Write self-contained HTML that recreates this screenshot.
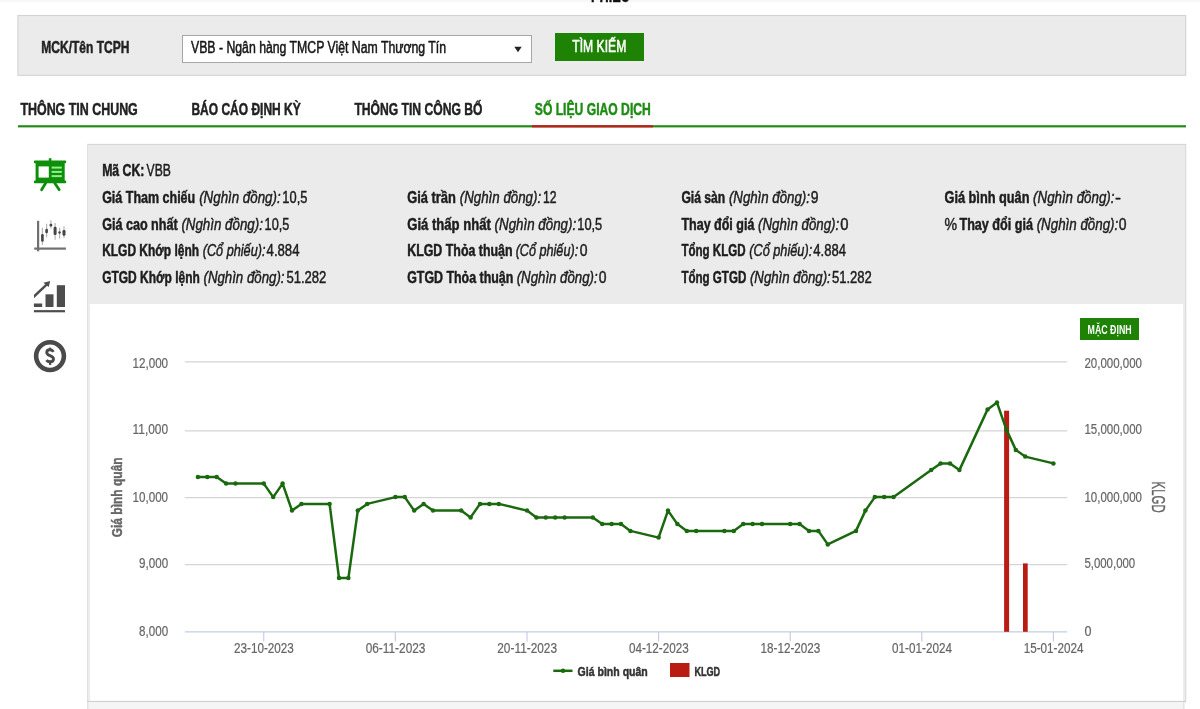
<!DOCTYPE html>
<html lang="vi"><head><meta charset="utf-8"><title>Số liệu giao dịch</title>
<style>
html,body{margin:0;padding:0;background:#fff;}
body{width:1200px;height:709px;overflow:hidden;font-family:'Liberation Sans',sans-serif;}
svg{display:block;font-family:'Liberation Sans',sans-serif;will-change:transform;}
</style></head><body>
<svg width="1200" height="709" viewBox="0 0 1200 709">
<defs><linearGradient id="tg" x1="0" y1="0" x2="0" y2="1"><stop offset="0" stop-color="#f5f5f5"/><stop offset="1" stop-color="#ffffff"/></linearGradient></defs>
<rect x="0" y="0" width="1200" height="709" fill="#ffffff"/>
<rect x="0" y="0" width="1200" height="3.5" fill="url(#tg)"/>
<text x="591.00" y="2.20" font-size="20" font-weight="bold" font-style="normal" fill="#111" text-anchor="start" textLength="39.00" lengthAdjust="spacingAndGlyphs" stroke="#111" stroke-width="0.5" stroke-linejoin="round">PHIẾU</text>
<rect x="17.9" y="15.5" width="1167.8" height="59.8" fill="#ebebeb" stroke="#d3d3d3" stroke-width="1.1"/>
<text x="41.30" y="52.50" font-size="16.3" font-weight="bold" font-style="normal" fill="#222" text-anchor="start" textLength="88.00" lengthAdjust="spacingAndGlyphs" stroke="#222" stroke-width="0.5" stroke-linejoin="round">MCK/Tên TCPH</text>
<rect x="182.5" y="35.5" width="349" height="27" fill="#ffffff" stroke="#a6a6a6" stroke-width="1"/>
<text x="191.00" y="53.00" font-size="16" font-weight="normal" font-style="normal" fill="#161616" text-anchor="start" textLength="255.00" lengthAdjust="spacingAndGlyphs" stroke="#161616" stroke-width="0.52" stroke-linejoin="round">VBB - Ngân hàng TMCP Việt Nam Thương Tín</text>
<path d="M514.3 46.8 L521.7 46.8 L518 52.2 Z" fill="#222"/>
<rect x="555" y="33" width="89" height="28" fill="#1e8205"/>
<text x="572.30" y="52.30" font-size="16.8" font-weight="normal" font-style="normal" fill="#ffffff" text-anchor="start" textLength="54.00" lengthAdjust="spacingAndGlyphs" stroke="#ffffff" stroke-width="0.6" stroke-linejoin="round">TÌM KIẾM</text>
<text x="20.40" y="115.00" font-size="17.2" font-weight="bold" font-style="normal" fill="#222" text-anchor="start" textLength="117.40" lengthAdjust="spacingAndGlyphs" stroke="#222" stroke-width="0.5" stroke-linejoin="round">THÔNG TIN CHUNG</text>
<text x="191.40" y="115.00" font-size="17.2" font-weight="bold" font-style="normal" fill="#222" text-anchor="start" textLength="109.40" lengthAdjust="spacingAndGlyphs" stroke="#222" stroke-width="0.5" stroke-linejoin="round">BÁO CÁO ĐỊNH KỲ</text>
<text x="354.40" y="115.00" font-size="17.2" font-weight="bold" font-style="normal" fill="#222" text-anchor="start" textLength="128.10" lengthAdjust="spacingAndGlyphs" stroke="#222" stroke-width="0.5" stroke-linejoin="round">THÔNG TIN CÔNG BỐ</text>
<text x="534.80" y="115.00" font-size="17.2" font-weight="bold" font-style="normal" fill="#1e8c14" text-anchor="start" textLength="116.00" lengthAdjust="spacingAndGlyphs" stroke="#1e8c14" stroke-width="0.5" stroke-linejoin="round">SỐ LIỆU GIAO DỊCH</text>
<rect x="18" y="125.2" width="1168" height="2.2" fill="#238c19"/>
<rect x="532" y="125.2" width="121" height="2.2" fill="#c81919"/>
<g fill="#0e8f0b">
<rect x="48.8" y="158.2" width="2.6" height="3"/>
<rect x="33.9" y="160.4" width="32.3" height="2.9" rx="1"/>
<rect x="35.6" y="162" width="29.1" height="19.5"/>
<rect x="33.9" y="180.4" width="32.3" height="2.9" rx="1"/>
</g>
<rect x="38.6" y="166.4" width="10.2" height="11.2" fill="#ffffff"/>
<g fill="#8ff08a"><rect x="51.6" y="166.6" width="10.2" height="2"/><rect x="51.6" y="170.9" width="10.2" height="2"/><rect x="51.6" y="175.1" width="10.2" height="2"/></g>
<g stroke="#0e8f0b" stroke-width="2.8" stroke-linecap="round"><line x1="45.7" y1="183" x2="41.6" y2="189.7"/><line x1="54.7" y1="183" x2="59.2" y2="189.7"/></g>
<g fill="#707070"><rect x="37" y="220.8" width="2.2" height="30.5"/><rect x="34.2" y="247.5" width="31.7" height="2.2"/></g>
<g stroke="#b5b5b5" stroke-width="1.2">
<line x1="42.4" y1="227.8" x2="42.4" y2="244.9"/><line x1="46.6" y1="223.7" x2="46.6" y2="237.3"/><line x1="50.9" y1="220.2" x2="50.9" y2="228.4"/>
<line x1="55.1" y1="223" x2="55.1" y2="239.8"/><line x1="59.6" y1="227.8" x2="59.6" y2="238.6"/><line x1="64" y1="226.2" x2="64" y2="237.9"/></g>
<g fill="#454545">
<rect x="41.1" y="234.1" width="2.6" height="7.6" rx="1.2"/><rect x="45.3" y="228.7" width="2.6" height="4.5" rx="1.2"/><rect x="49.5" y="223.7" width="2.8" height="2.8" rx="1.3"/>
<rect x="53.6" y="226.8" width="3" height="8.3" rx="1.3"/><rect x="58.3" y="231.3" width="2.5" height="2.5" rx="1.2"/><rect x="62.5" y="230" width="3" height="5.7" rx="1.3"/></g>
<g fill="#4d4d4d">
<rect x="33.9" y="310.1" width="31.1" height="2.2"/>
<rect x="33.9" y="303.5" width="8.3" height="3.5"/><rect x="45.5" y="294.3" width="8" height="12.7"/><rect x="56.8" y="285.2" width="8.2" height="21.8"/>
<path d="M50.2 281.1 L43.4 282.7 L48.7 286.9 Z"/></g>
<clipPath id="ac"><rect x="33.9" y="278" width="30" height="24"/></clipPath><line x1="31" y1="299.34" x2="46.6" y2="284.6" stroke="#4d4d4d" stroke-width="2.4" clip-path="url(#ac)"/>
<circle cx="50" cy="356.1" r="13.9" fill="none" stroke="#4a4a4a" stroke-width="4.6"/>
<path d="M53.4 351.9 C52.6 350.4 51.3 349.8 49.9 349.8 C48 349.8 46.8 350.9 46.8 352.5 C46.8 354.2 48.2 355 50 355.7 C52 356.5 53.5 357.3 53.5 359 C53.5 360.7 52.1 361.8 50.1 361.8 C48.6 361.8 47.3 361.3 46.4 360.1" fill="none" stroke="#4a4a4a" stroke-width="2.9"/>
<rect x="48.95" y="347.6" width="2.3" height="2.8" fill="#4a4a4a"/><rect x="48.95" y="361.6" width="2.3" height="3.3" fill="#4a4a4a"/>
<rect x="87.8" y="144.4" width="1097.9" height="557" fill="#ffffff" stroke="#d6d6d6" stroke-width="1.1"/>
<rect x="88" y="145" width="1097" height="159.2" fill="#ebebeb"/>
<rect x="88" y="304.2" width="1097" height="397" fill="#ffffff"/>
<rect x="88" y="304.2" width="2" height="397" fill="#ececec"/><rect x="1183" y="304.2" width="2" height="397" fill="#ececec"/>
<rect x="87" y="700.9" width="1099" height="1.3" fill="#cfcfcf"/>
<rect x="88" y="702" width="1096" height="8" fill="#f5f5f5"/>
<rect x="1183" y="702" width="1.5" height="8" fill="#e4e4e4"/><rect x="87" y="702" width="1.5" height="8" fill="#e4e4e4"/>
<text x="102.14" y="175.80" font-size="16" font-weight="bold" font-style="normal" fill="#1d1d1d" text-anchor="start" textLength="42.32" lengthAdjust="spacingAndGlyphs" stroke="#1d1d1d" stroke-width="0.5" stroke-linejoin="round">Mã CK:</text>
<text x="146.56" y="175.80" font-size="16" font-weight="normal" font-style="normal" fill="#1d1d1d" text-anchor="start" textLength="24.24" lengthAdjust="spacingAndGlyphs" stroke="#1d1d1d" stroke-width="0.46" stroke-linejoin="round">VBB</text>
<text x="102.14" y="202.70" font-size="16" font-weight="bold" font-style="normal" fill="#1d1d1d" text-anchor="start" textLength="93.08" lengthAdjust="spacingAndGlyphs" stroke="#1d1d1d" stroke-width="0.5" stroke-linejoin="round">Giá Tham chiếu</text>
<text x="199.15" y="202.70" font-size="16" font-weight="normal" font-style="italic" fill="#1d1d1d" text-anchor="start" textLength="81.55" lengthAdjust="spacingAndGlyphs" stroke="#1d1d1d" stroke-width="0.46" stroke-linejoin="round">(Nghìn đồng):</text>
<text x="282.35" y="202.70" font-size="16" font-weight="normal" font-style="normal" fill="#1d1d1d" text-anchor="start" textLength="25.00" lengthAdjust="spacingAndGlyphs" stroke="#1d1d1d" stroke-width="0.46" stroke-linejoin="round">10,5</text>
<text x="102.14" y="229.50" font-size="16" font-weight="bold" font-style="normal" fill="#1d1d1d" text-anchor="start" textLength="75.57" lengthAdjust="spacingAndGlyphs" stroke="#1d1d1d" stroke-width="0.5" stroke-linejoin="round">Giá cao nhất</text>
<text x="181.38" y="229.50" font-size="16" font-weight="normal" font-style="italic" fill="#1d1d1d" text-anchor="start" textLength="81.55" lengthAdjust="spacingAndGlyphs" stroke="#1d1d1d" stroke-width="0.46" stroke-linejoin="round">(Nghìn đồng):</text>
<text x="264.58" y="229.50" font-size="16" font-weight="normal" font-style="normal" fill="#1d1d1d" text-anchor="start" textLength="24.75" lengthAdjust="spacingAndGlyphs" stroke="#1d1d1d" stroke-width="0.46" stroke-linejoin="round">10,5</text>
<text x="102.14" y="256.40" font-size="16" font-weight="bold" font-style="normal" fill="#1d1d1d" text-anchor="start" textLength="96.89" lengthAdjust="spacingAndGlyphs" stroke="#1d1d1d" stroke-width="0.5" stroke-linejoin="round">KLGD Khớp lệnh</text>
<text x="202.70" y="256.40" font-size="16" font-weight="normal" font-style="italic" fill="#1d1d1d" text-anchor="start" textLength="62.77" lengthAdjust="spacingAndGlyphs" stroke="#1d1d1d" stroke-width="0.46" stroke-linejoin="round">(Cổ phiếu):</text>
<text x="266.61" y="256.40" font-size="16" font-weight="normal" font-style="normal" fill="#1d1d1d" text-anchor="start" textLength="32.87" lengthAdjust="spacingAndGlyphs" stroke="#1d1d1d" stroke-width="0.46" stroke-linejoin="round">4.884</text>
<text x="102.14" y="283.20" font-size="16" font-weight="bold" font-style="normal" fill="#1d1d1d" text-anchor="start" textLength="97.65" lengthAdjust="spacingAndGlyphs" stroke="#1d1d1d" stroke-width="0.5" stroke-linejoin="round">GTGD Khớp lệnh</text>
<text x="203.47" y="283.20" font-size="16" font-weight="normal" font-style="italic" fill="#1d1d1d" text-anchor="start" textLength="81.04" lengthAdjust="spacingAndGlyphs" stroke="#1d1d1d" stroke-width="0.46" stroke-linejoin="round">(Nghìn đồng):</text>
<text x="286.41" y="283.20" font-size="16" font-weight="normal" font-style="normal" fill="#1d1d1d" text-anchor="start" textLength="39.98" lengthAdjust="spacingAndGlyphs" stroke="#1d1d1d" stroke-width="0.46" stroke-linejoin="round">51.282</text>
<text x="407.22" y="202.70" font-size="16" font-weight="bold" font-style="normal" fill="#1d1d1d" text-anchor="start" textLength="48.66" lengthAdjust="spacingAndGlyphs" stroke="#1d1d1d" stroke-width="0.5" stroke-linejoin="round">Giá trần</text>
<text x="459.81" y="202.70" font-size="16" font-weight="normal" font-style="italic" fill="#1d1d1d" text-anchor="start" textLength="81.30" lengthAdjust="spacingAndGlyphs" stroke="#1d1d1d" stroke-width="0.46" stroke-linejoin="round">(Nghìn đồng):</text>
<text x="543.01" y="202.70" font-size="16" font-weight="normal" font-style="normal" fill="#1d1d1d" text-anchor="start" textLength="13.58" lengthAdjust="spacingAndGlyphs" stroke="#1d1d1d" stroke-width="0.46" stroke-linejoin="round">12</text>
<text x="407.22" y="229.50" font-size="16" font-weight="bold" font-style="normal" fill="#1d1d1d" text-anchor="start" textLength="83.69" lengthAdjust="spacingAndGlyphs" stroke="#1d1d1d" stroke-width="0.5" stroke-linejoin="round">Giá thấp nhất</text>
<text x="494.58" y="229.50" font-size="16" font-weight="normal" font-style="italic" fill="#1d1d1d" text-anchor="start" textLength="81.55" lengthAdjust="spacingAndGlyphs" stroke="#1d1d1d" stroke-width="0.46" stroke-linejoin="round">(Nghìn đồng):</text>
<text x="577.27" y="229.50" font-size="16" font-weight="normal" font-style="normal" fill="#1d1d1d" text-anchor="start" textLength="25.00" lengthAdjust="spacingAndGlyphs" stroke="#1d1d1d" stroke-width="0.46" stroke-linejoin="round">10,5</text>
<text x="407.22" y="256.40" font-size="16" font-weight="bold" font-style="normal" fill="#1d1d1d" text-anchor="start" textLength="105.26" lengthAdjust="spacingAndGlyphs" stroke="#1d1d1d" stroke-width="0.5" stroke-linejoin="round">KLGD Thỏa thuận</text>
<text x="515.65" y="256.40" font-size="16" font-weight="normal" font-style="italic" fill="#1d1d1d" text-anchor="start" textLength="62.51" lengthAdjust="spacingAndGlyphs" stroke="#1d1d1d" stroke-width="0.46" stroke-linejoin="round">(Cổ phiếu):</text>
<text x="579.81" y="256.40" font-size="16" font-weight="normal" font-style="normal" fill="#1d1d1d" text-anchor="start" textLength="7.75" lengthAdjust="spacingAndGlyphs" stroke="#1d1d1d" stroke-width="0.46" stroke-linejoin="round">0</text>
<text x="407.22" y="283.20" font-size="16" font-weight="bold" font-style="normal" fill="#1d1d1d" text-anchor="start" textLength="106.02" lengthAdjust="spacingAndGlyphs" stroke="#1d1d1d" stroke-width="0.5" stroke-linejoin="round">GTGD Thỏa thuận</text>
<text x="516.66" y="283.20" font-size="16" font-weight="normal" font-style="italic" fill="#1d1d1d" text-anchor="start" textLength="81.04" lengthAdjust="spacingAndGlyphs" stroke="#1d1d1d" stroke-width="0.46" stroke-linejoin="round">(Nghìn đồng):</text>
<text x="598.84" y="283.20" font-size="16" font-weight="normal" font-style="normal" fill="#1d1d1d" text-anchor="start" textLength="7.75" lengthAdjust="spacingAndGlyphs" stroke="#1d1d1d" stroke-width="0.46" stroke-linejoin="round">0</text>
<text x="681.38" y="202.70" font-size="16" font-weight="bold" font-style="normal" fill="#1d1d1d" text-anchor="start" textLength="43.84" lengthAdjust="spacingAndGlyphs" stroke="#1d1d1d" stroke-width="0.5" stroke-linejoin="round">Giá sàn</text>
<text x="728.90" y="202.70" font-size="16" font-weight="normal" font-style="italic" fill="#1d1d1d" text-anchor="start" textLength="81.04" lengthAdjust="spacingAndGlyphs" stroke="#1d1d1d" stroke-width="0.46" stroke-linejoin="round">(Nghìn đồng):</text>
<text x="810.82" y="202.70" font-size="16" font-weight="normal" font-style="normal" fill="#1d1d1d" text-anchor="start" textLength="7.75" lengthAdjust="spacingAndGlyphs" stroke="#1d1d1d" stroke-width="0.46" stroke-linejoin="round">9</text>
<text x="681.38" y="229.50" font-size="16" font-weight="bold" font-style="normal" fill="#1d1d1d" text-anchor="start" textLength="73.03" lengthAdjust="spacingAndGlyphs" stroke="#1d1d1d" stroke-width="0.5" stroke-linejoin="round">Thay đổi giá</text>
<text x="758.08" y="229.50" font-size="16" font-weight="normal" font-style="italic" fill="#1d1d1d" text-anchor="start" textLength="81.04" lengthAdjust="spacingAndGlyphs" stroke="#1d1d1d" stroke-width="0.46" stroke-linejoin="round">(Nghìn đồng):</text>
<text x="840.26" y="229.50" font-size="16" font-weight="normal" font-style="normal" fill="#1d1d1d" text-anchor="start" textLength="8.25" lengthAdjust="spacingAndGlyphs" stroke="#1d1d1d" stroke-width="0.46" stroke-linejoin="round">0</text>
<text x="681.38" y="256.40" font-size="16" font-weight="bold" font-style="normal" fill="#1d1d1d" text-anchor="start" textLength="64.14" lengthAdjust="spacingAndGlyphs" stroke="#1d1d1d" stroke-width="0.5" stroke-linejoin="round">Tổng KLGD</text>
<text x="749.20" y="256.40" font-size="16" font-weight="normal" font-style="italic" fill="#1d1d1d" text-anchor="start" textLength="63.02" lengthAdjust="spacingAndGlyphs" stroke="#1d1d1d" stroke-width="0.46" stroke-linejoin="round">(Cổ phiếu):</text>
<text x="813.36" y="256.40" font-size="16" font-weight="normal" font-style="normal" fill="#1d1d1d" text-anchor="start" textLength="32.62" lengthAdjust="spacingAndGlyphs" stroke="#1d1d1d" stroke-width="0.46" stroke-linejoin="round">4.884</text>
<text x="681.38" y="283.20" font-size="16" font-weight="bold" font-style="normal" fill="#1d1d1d" text-anchor="start" textLength="64.91" lengthAdjust="spacingAndGlyphs" stroke="#1d1d1d" stroke-width="0.5" stroke-linejoin="round">Tổng GTGD</text>
<text x="749.96" y="283.20" font-size="16" font-weight="normal" font-style="italic" fill="#1d1d1d" text-anchor="start" textLength="80.79" lengthAdjust="spacingAndGlyphs" stroke="#1d1d1d" stroke-width="0.46" stroke-linejoin="round">(Nghìn đồng):</text>
<text x="831.89" y="283.20" font-size="16" font-weight="normal" font-style="normal" fill="#1d1d1d" text-anchor="start" textLength="39.98" lengthAdjust="spacingAndGlyphs" stroke="#1d1d1d" stroke-width="0.46" stroke-linejoin="round">51.282</text>
<text x="944.48" y="202.70" font-size="16" font-weight="bold" font-style="normal" fill="#1d1d1d" text-anchor="start" textLength="84.96" lengthAdjust="spacingAndGlyphs" stroke="#1d1d1d" stroke-width="0.5" stroke-linejoin="round">Giá bình quân</text>
<text x="1033.11" y="202.70" font-size="16" font-weight="normal" font-style="italic" fill="#1d1d1d" text-anchor="start" textLength="81.30" lengthAdjust="spacingAndGlyphs" stroke="#1d1d1d" stroke-width="0.46" stroke-linejoin="round">(Nghìn đồng):</text>
<text x="1115.04" y="202.70" font-size="16" font-weight="normal" font-style="normal" fill="#1d1d1d" text-anchor="start" textLength="5.97" lengthAdjust="spacingAndGlyphs" stroke="#1d1d1d" stroke-width="0.46" stroke-linejoin="round">-</text>
<text x="944.48" y="229.50" font-size="16" font-weight="normal" font-style="normal" fill="#1d1d1d" text-anchor="start" textLength="12.57" lengthAdjust="spacingAndGlyphs" stroke="#1d1d1d" stroke-width="0.46" stroke-linejoin="round">%</text>
<text x="959.45" y="229.50" font-size="16" font-weight="bold" font-style="normal" fill="#1d1d1d" text-anchor="start" textLength="73.54" lengthAdjust="spacingAndGlyphs" stroke="#1d1d1d" stroke-width="0.5" stroke-linejoin="round">Thay đổi giá</text>
<text x="1036.66" y="229.50" font-size="16" font-weight="normal" font-style="italic" fill="#1d1d1d" text-anchor="start" textLength="81.55" lengthAdjust="spacingAndGlyphs" stroke="#1d1d1d" stroke-width="0.46" stroke-linejoin="round">(Nghìn đồng):</text>
<text x="1118.84" y="229.50" font-size="16" font-weight="normal" font-style="normal" fill="#1d1d1d" text-anchor="start" textLength="7.75" lengthAdjust="spacingAndGlyphs" stroke="#1d1d1d" stroke-width="0.46" stroke-linejoin="round">0</text>
<rect x="1080" y="318" width="59" height="22" fill="#1e8205"/>
<text x="1087.60" y="333.50" font-size="12.6" font-weight="bold" font-style="normal" fill="#ffffff" text-anchor="start" textLength="44.00" lengthAdjust="spacingAndGlyphs">MẶC ĐỊNH</text>
<line x1="184.8" y1="361.9" x2="1067.2" y2="361.9" stroke="#d5d5d5" stroke-width="1.3"/>
<line x1="184.8" y1="430.8" x2="1067.2" y2="430.8" stroke="#d5d5d5" stroke-width="1.3"/>
<line x1="184.8" y1="497.6" x2="1067.2" y2="497.6" stroke="#d5d5d5" stroke-width="1.3"/>
<line x1="184.8" y1="564.6" x2="1067.2" y2="564.6" stroke="#d5d5d5" stroke-width="1.3"/>
<line x1="184.8" y1="631.8" x2="1067.2" y2="631.8" stroke="#c3cde2" stroke-width="1.15"/>
<line x1="263.75" y1="631.8" x2="263.75" y2="641.5" stroke="#c3cde2" stroke-width="1.15"/>
<line x1="395.36" y1="631.8" x2="395.36" y2="641.5" stroke="#c3cde2" stroke-width="1.15"/>
<line x1="526.98" y1="631.8" x2="526.98" y2="641.5" stroke="#c3cde2" stroke-width="1.15"/>
<line x1="658.59" y1="631.8" x2="658.59" y2="641.5" stroke="#c3cde2" stroke-width="1.15"/>
<line x1="790.21" y1="631.8" x2="790.21" y2="641.5" stroke="#c3cde2" stroke-width="1.15"/>
<line x1="921.82" y1="631.8" x2="921.82" y2="641.5" stroke="#c3cde2" stroke-width="1.15"/>
<line x1="1053.43" y1="631.8" x2="1053.43" y2="641.5" stroke="#c3cde2" stroke-width="1.15"/>
<text x="168.10" y="367.60" font-size="15.4" font-weight="normal" font-style="normal" fill="#666" text-anchor="end" textLength="35.60" lengthAdjust="spacingAndGlyphs" stroke="#666" stroke-width="0.22" stroke-linejoin="round">12,000</text>
<text x="168.10" y="433.80" font-size="15.4" font-weight="normal" font-style="normal" fill="#666" text-anchor="end" textLength="35.60" lengthAdjust="spacingAndGlyphs" stroke="#666" stroke-width="0.22" stroke-linejoin="round">11,000</text>
<text x="168.10" y="501.60" font-size="15.4" font-weight="normal" font-style="normal" fill="#666" text-anchor="end" textLength="35.60" lengthAdjust="spacingAndGlyphs" stroke="#666" stroke-width="0.22" stroke-linejoin="round">10,000</text>
<text x="168.10" y="567.70" font-size="15.4" font-weight="normal" font-style="normal" fill="#666" text-anchor="end" textLength="29.00" lengthAdjust="spacingAndGlyphs" stroke="#666" stroke-width="0.22" stroke-linejoin="round">9,000</text>
<text x="168.10" y="636.10" font-size="15.4" font-weight="normal" font-style="normal" fill="#666" text-anchor="end" textLength="29.00" lengthAdjust="spacingAndGlyphs" stroke="#666" stroke-width="0.22" stroke-linejoin="round">8,000</text>
<text x="1084.40" y="367.60" font-size="15.4" font-weight="normal" font-style="normal" fill="#666" text-anchor="start" textLength="57.60" lengthAdjust="spacingAndGlyphs" stroke="#666" stroke-width="0.22" stroke-linejoin="round">20,000,000</text>
<text x="1084.40" y="433.80" font-size="15.4" font-weight="normal" font-style="normal" fill="#666" text-anchor="start" textLength="57.60" lengthAdjust="spacingAndGlyphs" stroke="#666" stroke-width="0.22" stroke-linejoin="round">15,000,000</text>
<text x="1084.40" y="501.60" font-size="15.4" font-weight="normal" font-style="normal" fill="#666" text-anchor="start" textLength="57.60" lengthAdjust="spacingAndGlyphs" stroke="#666" stroke-width="0.22" stroke-linejoin="round">10,000,000</text>
<text x="1084.40" y="567.70" font-size="15.4" font-weight="normal" font-style="normal" fill="#666" text-anchor="start" textLength="50.80" lengthAdjust="spacingAndGlyphs" stroke="#666" stroke-width="0.22" stroke-linejoin="round">5,000,000</text>
<text x="1084.40" y="636.10" font-size="15.4" font-weight="normal" font-style="normal" fill="#666" text-anchor="start" textLength="7.00" lengthAdjust="spacingAndGlyphs" stroke="#666" stroke-width="0.22" stroke-linejoin="round">0</text>
<text x="263.95" y="653.20" font-size="15.4" font-weight="normal" font-style="normal" fill="#666" text-anchor="middle" textLength="59.80" lengthAdjust="spacingAndGlyphs" stroke="#666" stroke-width="0.22" stroke-linejoin="round">23-10-2023</text>
<text x="395.56" y="653.20" font-size="15.4" font-weight="normal" font-style="normal" fill="#666" text-anchor="middle" textLength="59.80" lengthAdjust="spacingAndGlyphs" stroke="#666" stroke-width="0.22" stroke-linejoin="round">06-11-2023</text>
<text x="527.18" y="653.20" font-size="15.4" font-weight="normal" font-style="normal" fill="#666" text-anchor="middle" textLength="59.80" lengthAdjust="spacingAndGlyphs" stroke="#666" stroke-width="0.22" stroke-linejoin="round">20-11-2023</text>
<text x="658.79" y="653.20" font-size="15.4" font-weight="normal" font-style="normal" fill="#666" text-anchor="middle" textLength="59.80" lengthAdjust="spacingAndGlyphs" stroke="#666" stroke-width="0.22" stroke-linejoin="round">04-12-2023</text>
<text x="790.41" y="653.20" font-size="15.4" font-weight="normal" font-style="normal" fill="#666" text-anchor="middle" textLength="59.80" lengthAdjust="spacingAndGlyphs" stroke="#666" stroke-width="0.22" stroke-linejoin="round">18-12-2023</text>
<text x="922.02" y="653.20" font-size="15.4" font-weight="normal" font-style="normal" fill="#666" text-anchor="middle" textLength="59.80" lengthAdjust="spacingAndGlyphs" stroke="#666" stroke-width="0.22" stroke-linejoin="round">01-01-2024</text>
<text x="1053.63" y="653.20" font-size="15.4" font-weight="normal" font-style="normal" fill="#666" text-anchor="middle" textLength="59.80" lengthAdjust="spacingAndGlyphs" stroke="#666" stroke-width="0.22" stroke-linejoin="round">15-01-2024</text>
<text transform="translate(121.6 497.3) rotate(-90)" text-anchor="middle" font-size="15.4" font-weight="bold" fill="#666" stroke="#666" stroke-width="0.45" textLength="80" lengthAdjust="spacingAndGlyphs">Giá bình quân</text>
<text transform="translate(1152.1 497.1) rotate(90)" text-anchor="middle" font-size="18.2" fill="#666" stroke="#666" stroke-width="0.35" textLength="31.2" lengthAdjust="spacingAndGlyphs">KLGD</text>
<rect x="1004.1" y="410.7" width="5" height="221.1" fill="#b81c12"/>
<rect x="1023" y="563.4" width="4.7" height="68.4" fill="#b81c12"/>
<polyline fill="none" stroke="#1b690f" stroke-width="2.5" stroke-linejoin="round" stroke-linecap="round" points="197.9,476.9 207.3,476.9 216.7,476.9 226.1,483.6 235.5,483.6 263.8,483.6 273.2,497.1 282.6,483.6 292.0,510.6 301.4,503.9 329.6,503.9 339.0,578.1 348.4,578.1 357.8,510.6 367.2,503.9 395.4,497.1 404.8,497.1 414.2,510.6 423.6,503.9 433.0,510.6 461.2,510.6 470.6,517.4 480.0,503.9 489.4,503.9 498.8,503.9 527.0,510.6 536.4,517.4 545.8,517.4 555.2,517.4 564.6,517.4 592.8,517.4 602.2,524.1 611.6,524.1 621.0,524.1 630.4,530.9 658.6,537.6 668.0,510.6 677.4,524.1 686.8,530.9 696.2,530.9 724.4,530.9 733.8,530.9 743.2,524.1 752.6,524.1 762.0,524.1 790.2,524.1 799.6,524.1 809.0,530.9 818.4,530.9 827.8,544.4 856.0,530.9 865.4,510.6 874.8,497.1 884.2,497.1 893.6,497.1 931.2,470.1 940.6,463.4 950.0,463.4 959.4,470.1 987.6,409.4 997.0,402.6 1006.4,429.6 1015.8,449.9 1025.2,456.6 1053.4,463.4"/>
<g fill="#1b690f"><circle cx="197.9" cy="476.9" r="2.25"/><circle cx="207.3" cy="476.9" r="2.25"/><circle cx="216.7" cy="476.9" r="2.25"/><circle cx="226.1" cy="483.6" r="2.25"/><circle cx="235.5" cy="483.6" r="2.25"/><circle cx="263.8" cy="483.6" r="2.25"/><circle cx="273.2" cy="497.1" r="2.25"/><circle cx="282.6" cy="483.6" r="2.25"/><circle cx="292.0" cy="510.6" r="2.25"/><circle cx="301.4" cy="503.9" r="2.25"/><circle cx="329.6" cy="503.9" r="2.25"/><circle cx="339.0" cy="578.1" r="2.25"/><circle cx="348.4" cy="578.1" r="2.25"/><circle cx="357.8" cy="510.6" r="2.25"/><circle cx="367.2" cy="503.9" r="2.25"/><circle cx="395.4" cy="497.1" r="2.25"/><circle cx="404.8" cy="497.1" r="2.25"/><circle cx="414.2" cy="510.6" r="2.25"/><circle cx="423.6" cy="503.9" r="2.25"/><circle cx="433.0" cy="510.6" r="2.25"/><circle cx="461.2" cy="510.6" r="2.25"/><circle cx="470.6" cy="517.4" r="2.25"/><circle cx="480.0" cy="503.9" r="2.25"/><circle cx="489.4" cy="503.9" r="2.25"/><circle cx="498.8" cy="503.9" r="2.25"/><circle cx="527.0" cy="510.6" r="2.25"/><circle cx="536.4" cy="517.4" r="2.25"/><circle cx="545.8" cy="517.4" r="2.25"/><circle cx="555.2" cy="517.4" r="2.25"/><circle cx="564.6" cy="517.4" r="2.25"/><circle cx="592.8" cy="517.4" r="2.25"/><circle cx="602.2" cy="524.1" r="2.25"/><circle cx="611.6" cy="524.1" r="2.25"/><circle cx="621.0" cy="524.1" r="2.25"/><circle cx="630.4" cy="530.9" r="2.25"/><circle cx="658.6" cy="537.6" r="2.25"/><circle cx="668.0" cy="510.6" r="2.25"/><circle cx="677.4" cy="524.1" r="2.25"/><circle cx="686.8" cy="530.9" r="2.25"/><circle cx="696.2" cy="530.9" r="2.25"/><circle cx="724.4" cy="530.9" r="2.25"/><circle cx="733.8" cy="530.9" r="2.25"/><circle cx="743.2" cy="524.1" r="2.25"/><circle cx="752.6" cy="524.1" r="2.25"/><circle cx="762.0" cy="524.1" r="2.25"/><circle cx="790.2" cy="524.1" r="2.25"/><circle cx="799.6" cy="524.1" r="2.25"/><circle cx="809.0" cy="530.9" r="2.25"/><circle cx="818.4" cy="530.9" r="2.25"/><circle cx="827.8" cy="544.4" r="2.25"/><circle cx="856.0" cy="530.9" r="2.25"/><circle cx="865.4" cy="510.6" r="2.25"/><circle cx="874.8" cy="497.1" r="2.25"/><circle cx="884.2" cy="497.1" r="2.25"/><circle cx="893.6" cy="497.1" r="2.25"/><circle cx="931.2" cy="470.1" r="2.25"/><circle cx="940.6" cy="463.4" r="2.25"/><circle cx="950.0" cy="463.4" r="2.25"/><circle cx="959.4" cy="470.1" r="2.25"/><circle cx="987.6" cy="409.4" r="2.25"/><circle cx="997.0" cy="402.6" r="2.25"/><circle cx="1006.4" cy="429.6" r="2.25"/><circle cx="1015.8" cy="449.9" r="2.25"/><circle cx="1025.2" cy="456.6" r="2.25"/><circle cx="1053.4" cy="463.4" r="2.25"/></g>
<line x1="553.3" y1="670.8" x2="572.5" y2="670.8" stroke="#1b690f" stroke-width="2.5"/><circle cx="563" cy="670.8" r="2.25" fill="#1b690f"/>
<text x="577.60" y="675.50" font-size="13.2" font-weight="bold" font-style="normal" fill="#333" text-anchor="start" textLength="70.20" lengthAdjust="spacingAndGlyphs" stroke="#333" stroke-width="0.5" stroke-linejoin="round">Giá bình quân</text>
<rect x="670" y="663" width="19.5" height="14" fill="#b81c12"/>
<text x="694.40" y="675.50" font-size="13.2" font-weight="bold" font-style="normal" fill="#333" text-anchor="start" textLength="25.80" lengthAdjust="spacingAndGlyphs" stroke="#333" stroke-width="0.5" stroke-linejoin="round">KLGD</text>
</svg>
</body></html>
